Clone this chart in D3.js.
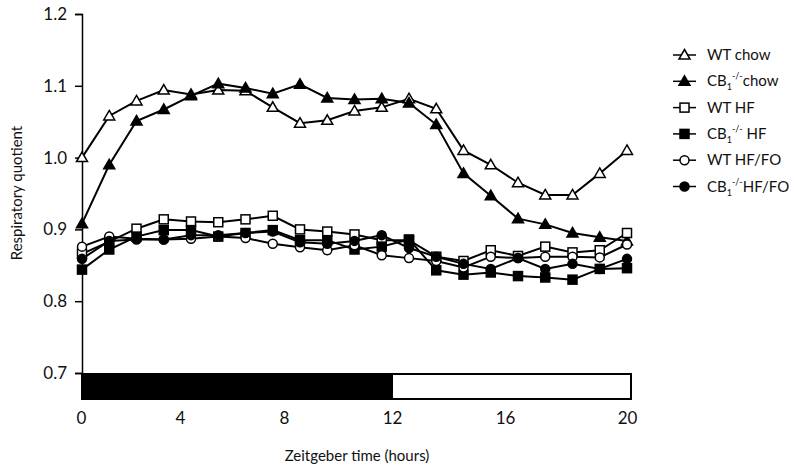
<!DOCTYPE html>
<html>
<head>
<meta charset="utf-8">
<script src="https://cdn.jsdelivr.net/npm/d3@7"></script>
<style>
  body { margin: 0; background: #fff; }
  text { font-family: Lato, "Open Sans", sans-serif; fill: #111; }
</style>
</head>
<body>
<script>
// sample index along the x axis (21 readings)
const points = [0, 1, 2, 3, 4, 5, 6, 7, 8, 9, 10, 11, 12, 13, 14, 15, 16, 17, 18, 19, 20];

const wtChow = [1.000, 1.058, 1.079, 1.094, 1.088, 1.094, 1.093, 1.070, 1.048, 1.052, 1.065,
                1.070, 1.082, 1.068, 1.010, 0.990, 0.965, 0.948, 0.948, 0.978, 1.010];
const cbChow = [0.908, 0.990, 1.051, 1.067, 1.086, 1.103, 1.097, 1.089, 1.102, 1.083, 1.081,
                1.082, 1.076, 1.046, 0.978, 0.947, 0.915, 0.907, 0.895, 0.889, 0.884];
const wtHF   = [0.866, 0.883, 0.901, 0.914, 0.911, 0.910, 0.914, 0.919, 0.900, 0.897, 0.893,
                0.885, 0.885, 0.862, 0.856, 0.871, 0.863, 0.876, 0.868, 0.871, 0.895];
const cbHF   = [0.844, 0.872, 0.890, 0.899, 0.899, 0.890, 0.895, 0.899, 0.885, 0.885, 0.872,
                0.876, 0.886, 0.843, 0.837, 0.840, 0.835, 0.833, 0.830, 0.845, 0.846];
const wtHFFO = [0.876, 0.890, 0.887, 0.886, 0.887, 0.890, 0.888, 0.880, 0.875, 0.871, 0.878,
                0.864, 0.860, 0.856, 0.847, 0.862, 0.860, 0.862, 0.862, 0.861, 0.879];
const cbHFFO = [0.859, 0.884, 0.886, 0.886, 0.892, 0.892, 0.895, 0.897, 0.882, 0.880, 0.884,
                0.892, 0.874, 0.862, 0.852, 0.845, 0.860, 0.845, 0.852, 0.845, 0.859];

const yTicks = [0.7, 0.8, 0.9, 1.0, 1.1, 1.2];
const hourTicks = [0, 4, 8, 12, 16, 20];
const darkPhase = [0, 12];
const lightPhase = [12, 20];

const series = [
  {name: 'WT', sup: null, rest: ' chow', values: wtChow, shape: 'triangle', filled: false},
  {name: 'CB', sup: true, rest: 'chow', values: cbChow, shape: 'triangle', filled: true},
  {name: 'WT', sup: null, rest: ' HF', values: wtHF, shape: 'square', filled: false},
  {name: 'CB', sup: true, rest: ' HF', values: cbHF, shape: 'square', filled: true},
  {name: 'WT', sup: null, rest: ' HF/FO', values: wtHFFO, shape: 'circle', filled: false},
  {name: 'CB', sup: true, rest: 'HF/FO', values: cbHFFO, shape: 'circle', filled: true}
];

const width = 796, height = 472;
const svg = d3.select('body').append('svg')
  .attr('width', width)
  .attr('height', height);

const x = d3.scaleLinear().domain([0, 20]).range([82, 627]);
const y = d3.scaleLinear().domain([0.7, 1.2]).range([373, 14]);
// hour labels do not sit evenly on the sample axis in the original figure
const hourX = d3.scaleLinear().domain([0, 4, 8, 12, 16, 20]).range([81, 180, 284, 392, 505, 632]);

// y axis
const yAxis = svg.append('g')
  .attr('transform', 'translate(82,0)')
  .call(d3.axisLeft(y).tickValues(yTicks).tickFormat(d3.format('.1f')).tickSizeOuter(0).tickSize(7).tickPadding(8));
yAxis.select('.domain').attr('stroke', '#000').attr('stroke-width', 1.5);
yAxis.selectAll('.tick line').attr('stroke', '#000').attr('stroke-width', 1.5);
yAxis.selectAll('.tick text').style('font-size', '17px').attr('fill', '#111')
  .style('font-family', 'Lato, sans-serif');

// dark / light bar
svg.append('rect')
  .attr('x', hourX(darkPhase[0])).attr('y', 373)
  .attr('width', hourX(darkPhase[1]) - hourX(darkPhase[0])).attr('height', 27)
  .attr('fill', '#000');
svg.append('rect')
  .attr('x', hourX(lightPhase[0])).attr('y', 374)
  .attr('width', hourX(lightPhase[1]) - hourX(lightPhase[0]) - 1).attr('height', 25)
  .attr('fill', '#fff').attr('stroke', '#000').attr('stroke-width', 2);

// x labels
const xAxis = svg.append('g')
  .attr('transform', 'translate(0,400)')
  .call(d3.axisBottom(hourX).tickValues(hourTicks).tickSize(0).tickPadding(12));
xAxis.select('.domain').remove();
xAxis.selectAll('.tick text').style('font-size', '17px').attr('fill', '#111')
  .style('font-family', 'Lato, sans-serif')
  .attr('transform', d => d === 20 ? 'translate(-5,0)' : null);

// axis titles
svg.append('text')
  .attr('x', 357).attr('y', 461)
  .attr('text-anchor', 'middle')
  .style('font-size', '15px')
  .text('Zeitgeber time (hours)');
svg.append('text')
  .attr('transform', 'translate(22,193) rotate(-90)')
  .attr('text-anchor', 'middle')
  .style('font-size', '15px')
  .text('Respiratory quotient');

function drawMarker(g, shape, filled, cx, cy) {
  const fill = filled ? '#000' : '#fff';
  if (shape === 'triangle') {
    g.append('path')
      .attr('d', `M${cx},${cy - 5.5}L${cx + 5.5},${cy + 4}L${cx - 5.5},${cy + 4}Z`)
      .attr('fill', fill).attr('stroke', '#000').attr('stroke-width', 1.5);
  } else if (shape === 'square') {
    g.append('rect')
      .attr('x', cx - 4.5).attr('y', cy - 4.5).attr('width', 9).attr('height', 9)
      .attr('fill', fill).attr('stroke', '#000').attr('stroke-width', 1.5);
  } else {
    g.append('circle')
      .attr('cx', cx).attr('cy', cy).attr('r', 4.5)
      .attr('fill', fill).attr('stroke', '#000').attr('stroke-width', 1.5);
  }
}

const line = d3.line()
  .x((d, i) => x(points[i]))
  .y(d => y(d));

const plot = svg.append('g');
series.forEach(s => {
  plot.append('path')
    .attr('d', line(s.values))
    .attr('fill', 'none')
    .attr('stroke', '#000')
    .attr('stroke-width', 2);
});
series.forEach(s => {
  const g = plot.append('g');
  s.values.forEach((v, i) => drawMarker(g, s.shape, s.filled, x(points[i]), y(v)));
});

// legend
const legend = svg.append('g');
series.forEach((s, i) => {
  const ly = 55 + i * 26.3;
  legend.append('line')
    .attr('x1', 673).attr('x2', 696).attr('y1', ly).attr('y2', ly)
    .attr('stroke', '#000').attr('stroke-width', 1.5);
  drawMarker(legend, s.shape, s.filled, 684.5, ly);
  const t = legend.append('text')
    .attr('x', 707).attr('y', ly + 5)
    .style('font-size', '15px');
  t.append('tspan').text(s.name);
  if (s.sup) {
    t.append('tspan').attr('dy', 4).style('font-size', '9px').text('1');
    t.append('tspan').attr('dy', -11).style('font-size', '9px').text('-/-');
    t.append('tspan').attr('dy', 7).text(s.rest);
  } else {
    t.append('tspan').text(s.rest);
  }
});
</script>
</body>
</html>
